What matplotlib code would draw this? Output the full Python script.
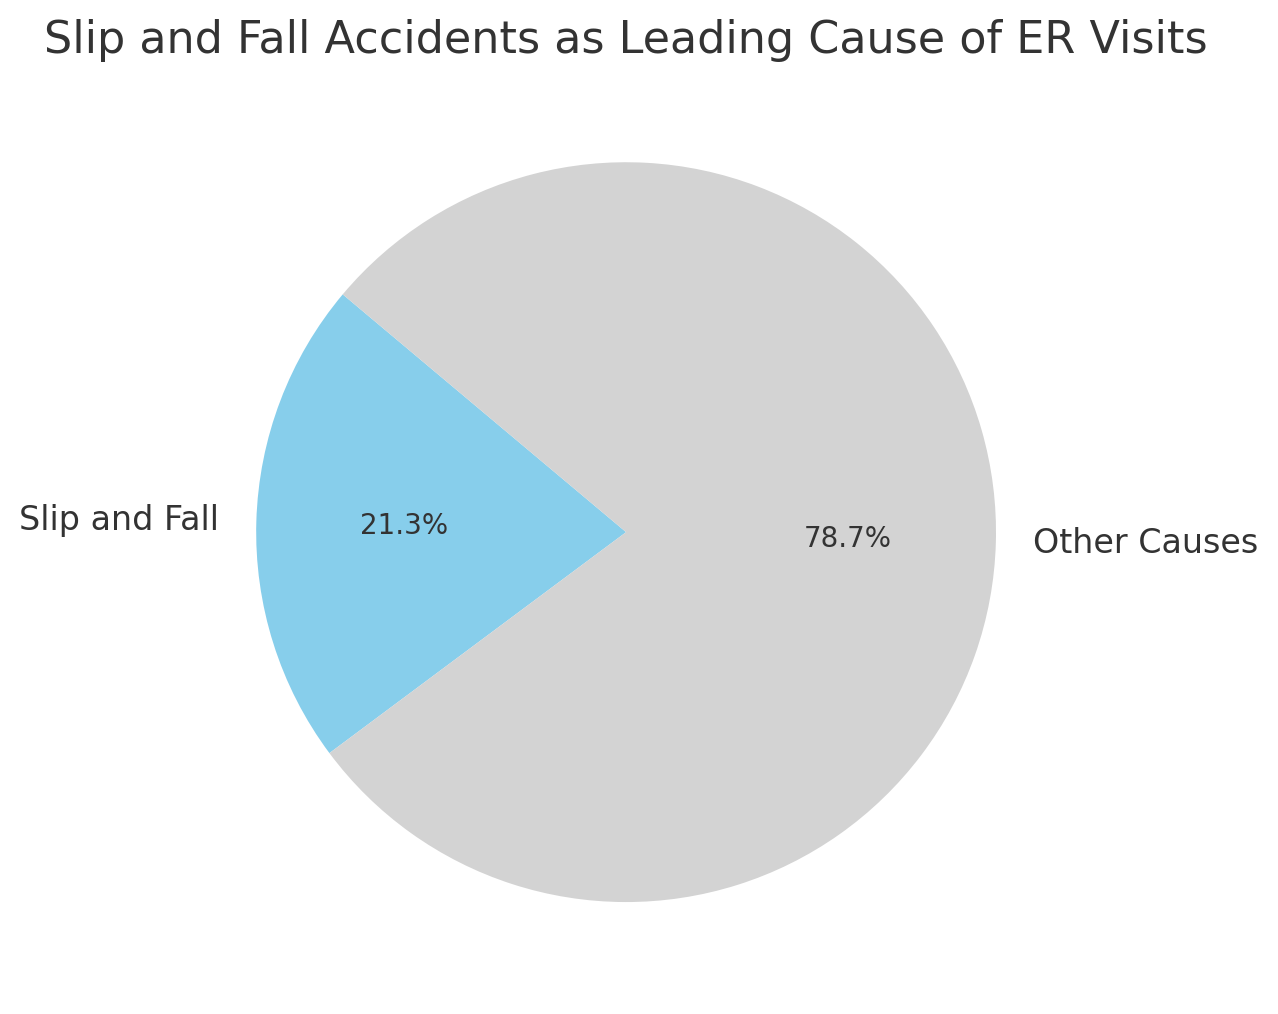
import matplotlib.pyplot as plt

# данные
labels = ['Slip and Fall', 'Other Causes']
shares = [21.3, 78.7]
colors = ['skyblue', 'lightgray']

plt.rcParams['text.color'] = '#333333'

fig = plt.figure(figsize=(6.39, 5.07), dpi=200)
ax = fig.add_axes([0.128, 0.0192, 0.7238, 0.912])
ax.pie(shares, labels=labels, colors=colors, autopct='%1.1f%%',
       startangle=140, textprops={'fontsize': 12})
for t in ax.texts:
    if t.get_text().endswith('%'):
        t.set_fontsize(10)
ax.set_title('Slip and Fall Accidents as Leading Cause of ER Visits', fontsize=16)
ax.set_aspect('equal')
fig.savefig('out.png', dpi=200)
